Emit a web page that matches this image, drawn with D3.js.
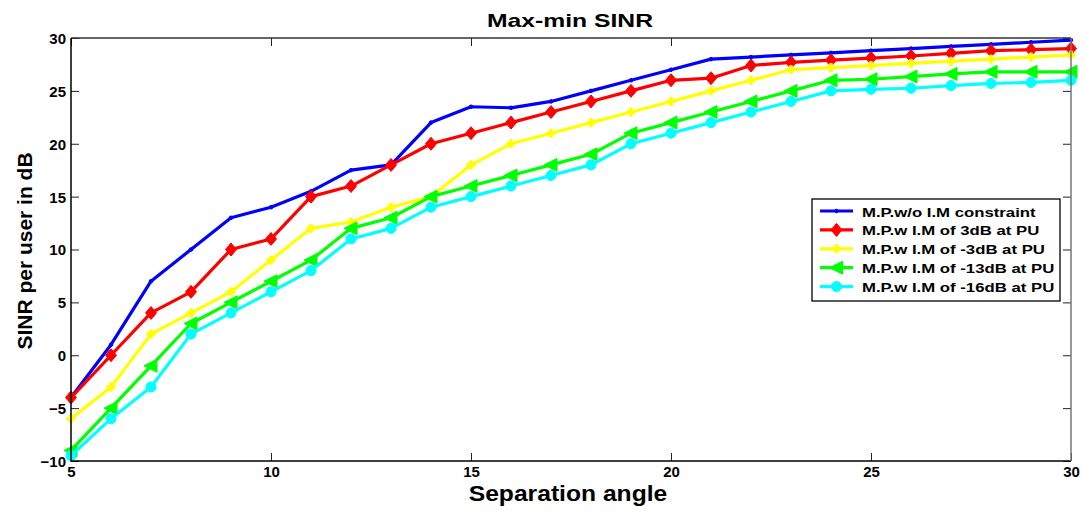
<!DOCTYPE html>
<html><head><meta charset="utf-8">
<script src="https://cdn.jsdelivr.net/npm/d3@7"></script>
<style>body{margin:0;background:#fff}svg{display:block;font-family:"Liberation Sans",Arial,sans-serif}</style>
</head><body><svg id="c" width="1086" height="511"></svg>
<script>
const angles = [5,6,7,8,9,10,11,12,13,14,15,16,17,18,19,20,21,22,23,24,25,26,27,28,29,30];
const noConstraint = [-4,1,7,10,13,14,15.5,17.5,18,22,23.5,23.4,24,25,26,27,28,28.2,28.4,28.6,28.8,29,29.2,29.4,29.6,29.8];
const im3dB = [-4,0,4,6,10,11,15,16,18,20,21,22,23,24,25,26,26.2,27.4,27.7,27.9,28.1,28.3,28.55,28.8,28.9,29];
const imM3dB = [-6,-3,2,4,6,9,12,12.6,14,15,18,20,21,22,23,24,25,26,27,27.2,27.4,27.6,27.8,28,28.2,28.4];
const imM13dB = [-9,-5,-1,3,5,7,9,12,13,15,16,17,18,19,21,22,23,24,25,26,26.1,26.35,26.6,26.8,26.8,26.8];
const imM16dB = [-9.5,-6,-3,2,4,6,8,11,12,14,15,16,17,18,20,21,22,23,24,25,25.15,25.25,25.5,25.7,25.8,26];
const seriesNames = ["M.P.w/o I.M constraint","M.P.w I.M of 3dB at PU","M.P.w I.M of -3dB at PU","M.P.w I.M of -13dB at PU","M.P.w I.M of -16dB at PU"];
const seriesColors = ["#0000ff","#ff0000","#ffff00","#00ff00","#00ffff"];
const seriesMarkers = ["point","diamond","plus","triangle","circle"];
const xTicks = [5,10,15,20,25,30];
const yTicks = [-10,-5,0,5,10,15,20,25,30];
const allSeries = [noConstraint, im3dB, imM3dB, imM13dB, imM16dB];

const svg = d3.select("#c");
const L=71, R=1071, T=38, B=461;
const x = d3.scaleLinear().domain([5,30]).range([L,R]);
const y = d3.scaleLinear().domain([-10,30]).range([B,T]);

// stretch text horizontally (the reference is widened)
function stretch(sel, k){
  sel.each(function(){
    const len = this.getComputedTextLength();
    d3.select(this).attr("textLength", len*k).attr("lengthAdjust","spacingAndGlyphs");
  });
}

const axColor="#222";
const gx = svg.append("g").attr("transform",`translate(0,${B})`)
  .call(d3.axisBottom(x).tickValues(xTicks).tickSize(-8).tickPadding(5).tickFormat(d3.format("d")));
const gxt = svg.append("g").attr("transform",`translate(0,${T})`)
  .call(d3.axisTop(x).tickValues(xTicks).tickSize(-8).tickFormat(""));
const gy = svg.append("g").attr("transform",`translate(${L},0)`)
  .call(d3.axisLeft(y).tickValues(yTicks).tickSize(-8).tickPadding(5).tickFormat(d3.format("d")));
const gyr = svg.append("g").attr("transform",`translate(${R},0)`)
  .call(d3.axisRight(y).tickValues(yTicks).tickSize(-8).tickFormat(""));
[gx,gxt,gy,gyr].forEach(g=>{
  g.select(".domain").remove();
  g.selectAll("line").attr("stroke",axColor).attr("stroke-width",1);
  g.selectAll("text").attr("fill","#000").attr("font-size",15).attr("font-weight","bold")
   .attr("font-family","'Liberation Sans',Arial,sans-serif");
});
gy.selectAll("text").attr("dy","0.36em");

function markerPath(type){
  if(type==="diamond") return "M0,-6.5L5.5,0L0,6.5L-5.5,0Z";
  if(type==="circle") return d3.symbol(d3.symbolCircle,80)();
  if(type==="plus") return d3.symbol(d3.symbolCross,36)();
  if(type==="triangle") return "M-7,0L6,-6.5L6,6.5Z";
  return d3.symbol(d3.symbolCircle,10)();
}

const line = d3.line().x((d,i)=>x(angles[i])).y(d=>y(d));
allSeries.forEach((vals,si)=>{
  const g = svg.append("g");
  g.append("path").datum(vals).attr("d",line).attr("fill","none")
    .attr("stroke",seriesColors[si]).attr("stroke-width",3.2).attr("stroke-linejoin","round");
  g.selectAll("path.m").data(vals).join("path").attr("class","m")
    .attr("transform",(d,i)=>`translate(${x(angles[i])},${y(d)})`)
    .attr("d",markerPath(seriesMarkers[si])).attr("fill",seriesColors[si])
    .attr("stroke",seriesColors[si]).attr("stroke-width",1);
});

// axes box on top
svg.append("path").attr("d",`M${L},${T}H${R}`).attr("stroke","#333").attr("stroke-width",1.3);
svg.append("path").attr("d",`M${L},${T}V${B}H${R}`).attr("fill","none").attr("stroke","#000").attr("stroke-width",1.5);
svg.append("path").attr("d",`M${R},${T}V${B}`).attr("stroke","#777").attr("stroke-width",1.5);

// title and labels
stretch(svg.append("text").attr("x",570).attr("y",27).attr("text-anchor","middle")
  .attr("font-size",19).attr("font-weight","bold").text("Max-min SINR"), 1.3);
stretch(svg.append("text").attr("x",568).attr("y",501).attr("text-anchor","middle")
  .attr("font-size",22).attr("font-weight","bold").text("Separation angle"), 1.12);
svg.append("text").attr("transform","translate(32,251) rotate(-90)").attr("text-anchor","middle")
  .attr("font-size",21).attr("font-weight","bold").text("SINR per user in dB");

// legend
const lg = svg.append("g");
lg.append("rect").attr("x",812).attr("y",199).attr("width",248).attr("height",102)
  .attr("fill","#fff").attr("stroke","#000").attr("stroke-width",1.3);
seriesNames.forEach((n,i)=>{
  const yy = 211 + i*18.9;
  lg.append("line").attr("x1",820).attr("x2",853).attr("y1",yy).attr("y2",yy)
    .attr("stroke",seriesColors[i]).attr("stroke-width",3.2);
  lg.append("path").attr("transform",`translate(836.5,${yy})`).attr("d",markerPath(seriesMarkers[i]))
    .attr("fill",seriesColors[i]).attr("stroke",seriesColors[i]);
  stretch(lg.append("text").attr("x",862).attr("y",yy+5.5).attr("font-size",13.5).attr("font-weight","bold").text(n), 1.24);
});
</script></body></html>
